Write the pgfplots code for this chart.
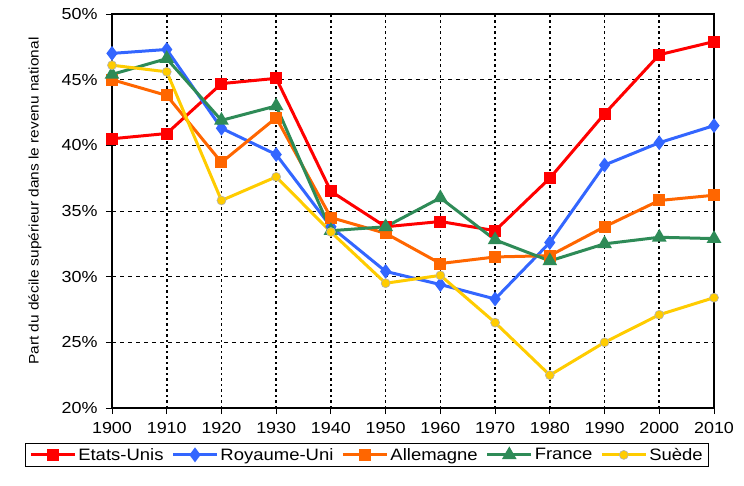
\documentclass[border=0pt]{standalone}
\usepackage{fontspec}
\setmainfont{Liberation Sans}[FakeStretch=1.12]
\usepackage{pgfplots}
\pgfplotsset{compat=1.18}

\definecolor{cUS}{RGB}{255,0,0}
\definecolor{cUK}{RGB}{51,102,255}
\definecolor{cDE}{RGB}{255,102,0}
\definecolor{cFR}{RGB}{46,139,87}
\definecolor{cSE}{RGB}{255,204,0}

\begin{document}
\begin{tikzpicture}[x=1pt,y=1pt]
\path[use as bounding box] (0,0) rectangle (744,485);
\begin{axis}[
  at={(112pt,77pt)}, anchor=south west,
  scale only axis,
  width=602pt, height=394pt,
  xmin=1900, xmax=2010,
  ymin=20, ymax=50,
  xtick={1900,1910,...,2010},
  ytick={20,25,...,50},
  /pgf/number format/assume math mode=true,
  /pgf/number format/1000 sep={},
  yticklabel={\pgfmathprintnumber{\tick}\%},
  tick label style={font=\fontsize{16}{18}\selectfont},
  xticklabel style={yshift=-5pt},
  yticklabel style={xshift=-5pt},
  tick align=outside,
  major tick length=6pt,
  tick style={black,line width=1pt},
  xtick pos=bottom, ytick pos=left,
  axis line style={black,line width=1.5pt},
  grid=major,
  grid style={black,dash pattern=on 4pt off 4pt,line width=1pt},
  x grid style={black,dash pattern=on 2.5pt off 3pt,line width=1.6pt},
  ylabel={Part du décile supérieur dans le revenu national},
  ylabel style={font=\fontsize{13.8}{16}\selectfont, at={(axis description cs:-0.128,0.525)}, anchor=center},
  legend style={at={(axis description cs:0.4236,-0.088)}, anchor=north,
    legend columns=5, draw=black, line width=0.8pt,
    font=\fontsize{16.5}{18}\selectfont, inner xsep=4pt, inner ysep=3pt,
    /tikz/every even column/.append style={column sep=6pt}},
  legend image code/.code={\draw[mark repeat=2,mark phase=2,#1,line width=3pt]
    plot coordinates {(0pt,0pt) (22pt,0pt) (44pt,0pt)};},
  every axis plot/.append style={line width=3pt},
  clip=false,
]
\addplot[cUS, mark=square*, mark size=4.5pt, mark options={solid}] coordinates {
(1900,40.5) (1910,40.9) (1920,44.7) (1930,45.1) (1940,36.5) (1950,33.8)
(1960,34.2) (1970,33.5) (1980,37.5) (1990,42.4) (2000,46.9) (2010,47.9)};
\addplot[cUK, mark=diamond*, mark size=5pt] coordinates {
(1900,47.0) (1910,47.3) (1920,41.3) (1930,39.3) (1940,33.8) (1950,30.4)
(1960,29.4) (1970,28.3) (1980,32.6) (1990,38.5) (2000,40.2) (2010,41.5)};
\addplot[cDE, mark=square*, mark size=4.5pt] coordinates {
(1900,45.0) (1910,43.8) (1920,38.7) (1930,42.1) (1940,34.5) (1950,33.3)
(1960,31.0) (1970,31.5) (1980,31.6) (1990,33.8) (2000,35.8) (2010,36.2)};
\addplot[cFR, mark=triangle*, mark size=5.5pt] coordinates {
(1900,45.4) (1910,46.6) (1920,41.9) (1930,43.0) (1940,33.5) (1950,33.8)
(1960,36.0) (1970,32.8) (1980,31.2) (1990,32.5) (2000,33.0) (2010,32.9)};
\addplot[cSE, mark=*, mark size=4.5pt, mark options={draw=black!30,fill=cSE,line width=0.6pt}] coordinates {
(1900,46.1) (1910,45.6) (1920,35.8) (1930,37.6) (1940,33.4) (1950,29.5)
(1960,30.1) (1970,26.5) (1980,22.5) (1990,25.0) (2000,27.1) (2010,28.4)};
\legend{Etats-Unis,Royaume-Uni,Allemagne,France,Suède}
\end{axis}
\end{tikzpicture}
\end{document}
